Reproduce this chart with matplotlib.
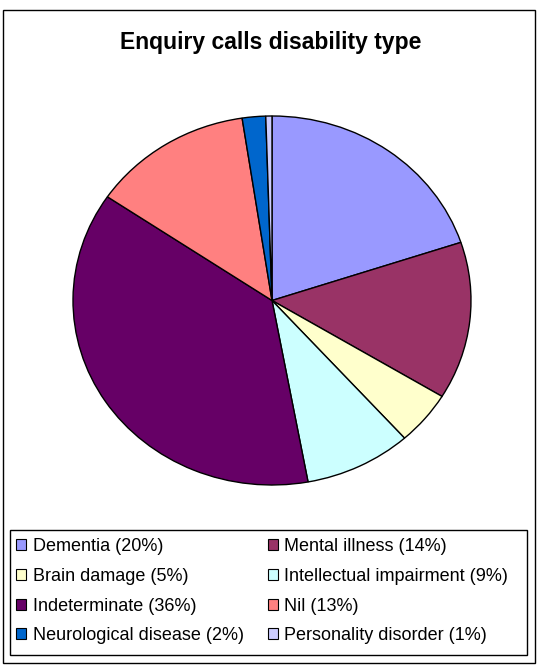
import matplotlib
matplotlib.use("Agg")
import matplotlib.pyplot as plt
from matplotlib.patches import Rectangle

categories = ["Dementia", "Mental illness", "Brain damage", "Intellectual impairment",
              "Indeterminate", "Nil", "Neurological disease", "Personality disorder"]
values = [19.9, 13.8, 4.7, 8.7, 37.4, 13.1, 1.9, 0.5]
legend_labels = ["Dementia (20%)", "Mental illness (14%)", "Brain damage (5%)",
                 "Intellectual impairment (9%)", "Indeterminate (36%)", "Nil (13%)",
                 "Neurological disease (2%)", "Personality disorder (1%)"]
colors = ["#9999FF", "#993366", "#FFFFCC", "#CCFFFF", "#660066", "#FF8080",
          "#0066CC", "#CCCCFF"]
title = "Enquiry calls disability type"

plt.rcParams['font.family'] = ['Liberation Sans', 'DejaVu Sans']

W, H = 539, 667
fig = plt.figure(figsize=(W / 100, H / 100), dpi=100)

# outer frame
fig.patches.append(Rectangle((3 / W, 1 - 663 / H), (535 - 3) / W, (663 - 10) / H,
                             transform=fig.transFigure, fill=False,
                             edgecolor="black", linewidth=1.0))

# pie (elliptical, as in the reference)
x0, x1, y0, y1 = 73, 471, 116, 485
ax = fig.add_axes([x0 / W, 1 - y1 / H, (x1 - x0) / W, (y1 - y0) / H])
wedges, _ = ax.pie(values, colors=colors, startangle=90, counterclock=False,
                   wedgeprops=dict(edgecolor="black", linewidth=1.0))
ax.set_aspect("auto")
ax.set_xlim(-1, 1)
ax.set_ylim(-1, 1)
ax.axis("off")

fig.text(271 / W, 1 - 43 / H, title, ha="center", va="center",
         fontsize=16.5, fontweight="bold")

# legend box
lx0, lx1, ly0, ly1 = 10, 527, 530, 655
fig.patches.append(Rectangle((lx0 / W, 1 - ly1 / H), (lx1 - lx0) / W, (ly1 - ly0) / H,
                             transform=fig.transFigure, fill=False,
                             edgecolor="black", linewidth=1.0))

# legend, rows filled left-right
order = [0, 2, 4, 6, 1, 3, 5, 7]
leg = fig.legend([wedges[i] for i in order], [legend_labels[i] for i in order],
                 ncol=2, loc="upper left",
                 bbox_to_anchor=(lx0 / W, 1 - (ly0 + 2) / H),
                 bbox_transform=fig.transFigure,
                 fontsize=13, frameon=False,
                 handlelength=0.55, handleheight=0.55, handletextpad=0.38,
                 columnspacing=1.3, labelspacing=0.70, borderpad=0.35,
                 borderaxespad=0)
for h in leg.legend_handles:
    h.set_linewidth(0.8)
    h.set_edgecolor("black")

fig.savefig("out.png", dpi=100)
